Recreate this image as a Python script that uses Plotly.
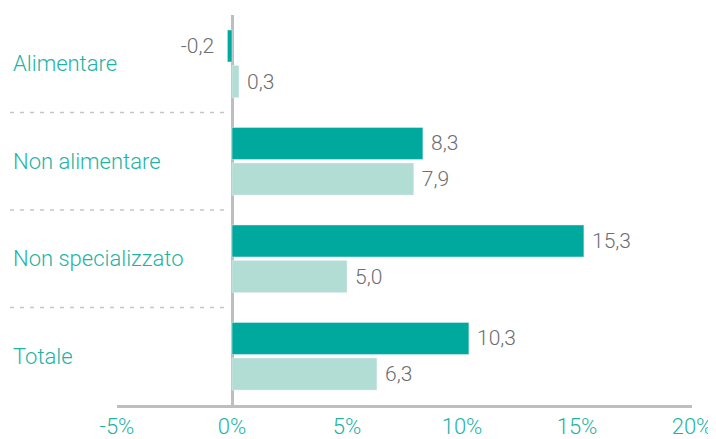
import plotly.graph_objects as go

# dati
categorie = ["Alimentare", "Non alimentare", "Non specializzato", "Totale"]
serie_a = [-0.2, 8.3, 15.3, 10.3]
serie_b = [0.3, 7.9, 5.0, 6.3]
tick_vals = [-5, 0, 5, 10, 15, 20]
tick_text = ["-5%", "0%", "5%", "10%", "15%", "20%"]

scuro = "#00a99d"
chiaro = "#b2ddd4"
grigio = "#bcbec0"
testo_teal = "#1db3a5"
testo_grigio = "#6d6e71"
font = "Roboto"

def etichette(vals):
    # spazi non separabili per staccare l'etichetta dalla barra
    return [("\u00a0" + f"{v:.1f}" if v >= 0 else f"{v:.1f}" + "\u00a0\u00a0").replace(".", ",")
            for v in vals]

fig = go.Figure()
fig.add_bar(y=categorie, x=serie_a, orientation="h", marker_color=scuro,
            text=etichette(serie_a), textposition="outside", cliponaxis=False,
            textfont=dict(color=testo_grigio, size=21, family=font, weight=300))
fig.add_bar(y=categorie, x=serie_b, orientation="h", marker_color=chiaro,
            text=etichette(serie_b), textposition="outside", cliponaxis=False,
            textfont=dict(color=testo_grigio, size=21, family=font, weight=300))

# la pagina ha 8px di margine sul body
W, H = 708, 431
L, R, T, B = 109, 24, 7, 34
pw = W - L - R

# etichette categorie allineate a sinistra
for i, c in enumerate(categorie):
    fig.add_annotation(text=c, xref="paper", yref="y", x=(3 - L) / pw, y=i,
                       xanchor="left", yanchor="middle", showarrow=False,
                       font=dict(color=testo_teal, size=22, family=font, weight=300))

# linee tratteggiate tra categorie
for i in range(len(categorie) - 1):
    fig.add_shape(type="line", xref="paper", yref="y",
                  x0=(2 - L) / pw, x1=(218 - L) / pw, y0=i + 0.5, y1=i + 0.5,
                  line=dict(color="#c4c6c8", width=1.5, dash="4px,6px"))

fig.update_layout(
    width=W, height=H,
    margin=dict(l=L, r=R, t=T, b=B, autoexpand=False),
    plot_bgcolor="white", paper_bgcolor="white",
    barmode="group", bargap=0.27, bargroupgap=0.1,
    showlegend=False,
    font=dict(family=font),
)
fig.update_xaxes(range=[-5, 20], tickvals=tick_vals, ticktext=tick_text,
                 automargin=False, ticklabeloverflow="allow",
                 showgrid=False, zeroline=True, zerolinecolor=grigio, zerolinewidth=3,
                 showline=True, linecolor=grigio, linewidth=3,
                 tickfont=dict(color=testo_teal, size=22, family=font, weight=300))
fig.update_yaxes(autorange="reversed", showticklabels=False, showgrid=False,
                 automargin=False, zeroline=False, showline=False)

fig.write_html("out.html")
